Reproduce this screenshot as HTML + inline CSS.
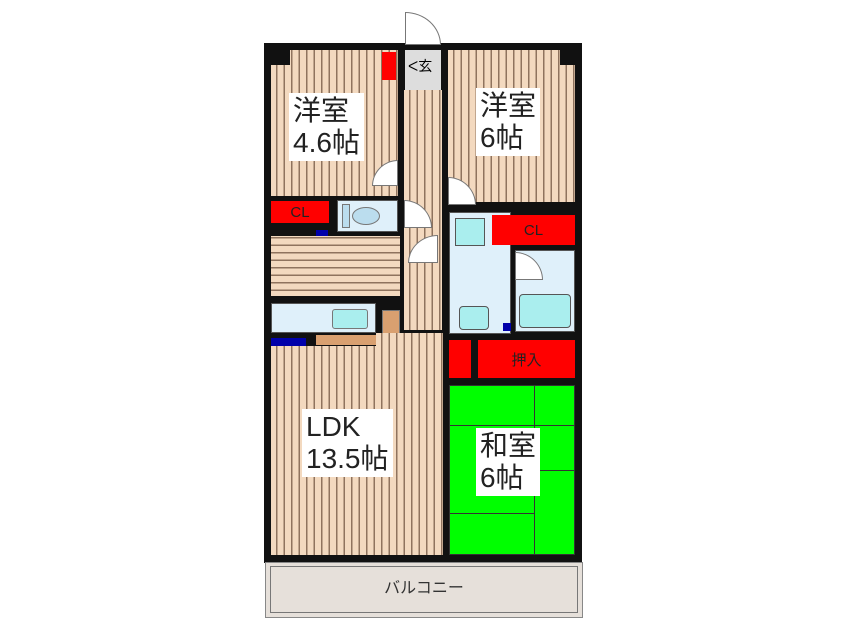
<!DOCTYPE html>
<html><head><meta charset="utf-8"><style>
body{margin:0;width:846px;height:634px;background:#fff;position:relative;overflow:hidden;font-family:"Liberation Sans","Noto Sans CJK JP",sans-serif}
div{position:absolute;box-sizing:border-box}
.v{background:repeating-linear-gradient(90deg,#f3d9bf 0 5px,#8f735e 5px 6.5px,#f3d9bf 6.5px 7.5px)}
.h{background:repeating-linear-gradient(0deg,#f3d9bf 0 5px,#8f735e 5px 6.5px,#f3d9bf 6.5px 7.5px)}
.k{background:#111}
.r{background:#f00;color:#222;font-size:15px;display:flex;align-items:center;justify-content:center}
.lb{background:#dff0fa;border:1px solid #555}
.t{background:#fff;font-size:28px;line-height:32px;color:#222;padding:2px 4px}
.door{border:1px solid #777;background:#fff;border-radius:0 100% 0 0}
</style></head><body>
<div class="k" style="left:264px;top:43px;width:318px;height:520px"></div>
<div class="v" style="left:271px;top:50px;width:127px;height:146px"></div>
<div class="v" style="left:404px;top:90px;width:38px;height:240px"></div>
<div style="left:405px;top:50px;width:36px;height:40px;background:#ddd"></div>
<div class="r" style="left:382px;top:52px;width:14px;height:28px"></div>
<div style="left:408px;top:56px;font-size:14px">ᐸ玄</div>
<div class="v" style="left:448px;top:50px;width:127px;height:152px"></div>
<div style="left:270px;top:45px;width:20px;height:20px" class="k"></div>
<div style="left:560px;top:45px;width:18px;height:20px" class="k"></div>
<div class="r" style="left:271px;top:201px;width:58px;height:22px">CL</div>
<div class="lb" style="left:337px;top:200px;width:61px;height:32px"></div>
<div style="left:342px;top:204px;width:8px;height:24px;background:#bde;border:1px solid #777"></div>
<div style="left:352px;top:207px;width:28px;height:18px;background:#bde;border:1px solid #777;border-radius:50%"></div>
<div style="left:316px;top:230px;width:12px;height:8px;background:#00a"></div>
<div class="h" style="left:271px;top:236px;width:129px;height:60px"></div>
<div class="lb" style="left:271px;top:303px;width:105px;height:30px"></div>
<div style="left:332px;top:309px;width:36px;height:20px;background:#aee;border:1px solid #777;border-radius:3px"></div>
<div style="left:382px;top:310px;width:18px;height:24px;background:#d9a070;border:1px solid #777"></div>
<div style="left:316px;top:335px;width:60px;height:10px;background:#d9a070"></div>
<div style="left:271px;top:338px;width:35px;height:8px;background:#00a"></div>
<div class="v" style="left:271px;top:346px;width:172px;height:209px"></div>
<div class="v" style="left:376px;top:333px;width:67px;height:15px"></div>
<div class="lb" style="left:449px;top:212px;width:62px;height:122px"></div>
<div style="left:455px;top:218px;width:30px;height:28px;background:#aee;border:1px solid #555"></div>
<div style="left:459px;top:306px;width:30px;height:24px;background:#aee;border:1px solid #555;border-radius:4px"></div>
<div class="r" style="left:492px;top:215px;width:83px;height:30px">CL</div>
<div class="lb" style="left:515px;top:250px;width:60px;height:82px"></div>
<div style="left:519px;top:294px;width:52px;height:34px;background:#aee;border:1px solid #555;border-radius:4px"></div>
<div style="left:503px;top:323px;width:8px;height:8px;background:#00a"></div>
<div class="r" style="left:449px;top:340px;width:22px;height:38px"></div>
<div class="r" style="left:478px;top:340px;width:97px;height:38px">押入</div>
<div style="left:449px;top:385px;width:126px;height:170px;background:#0f0;border:1px solid #333"></div>
<div style="left:449px;top:425px;width:126px;height:1px;background:#333"></div>
<div style="left:534px;top:385px;width:1px;height:170px;background:#333"></div>
<div style="left:449px;top:513px;width:86px;height:1px;background:#333"></div>
<div style="left:534px;top:470px;width:41px;height:1px;background:#333"></div>
<div class="door" style="left:372px;top:160px;width:26px;height:26px;border-radius:100% 0 0 0"></div>
<div class="door" style="left:448px;top:177px;width:28px;height:28px"></div>
<div class="door" style="left:404px;top:200px;width:28px;height:28px"></div>
<div class="door" style="left:408px;top:235px;width:30px;height:28px;border-radius:100% 0 0 0"></div>
<div class="door" style="left:515px;top:252px;width:28px;height:28px"></div>
<div class="door" style="left:405px;top:12px;width:36px;height:33px"></div>
<div class="t" style="left:289px;top:93px">洋室<br>4.6帖</div>
<div class="t" style="left:476px;top:88px">洋室<br>6帖</div>
<div class="t" style="left:302px;top:409px">LDK<br>13.5帖</div>
<div class="t" style="left:476px;top:428px">和室<br>6帖</div>
<div style="left:265px;top:562px;width:318px;height:56px;background:#e6e0da;border:1px solid #888"></div>
<div style="left:270px;top:566px;width:308px;height:47px;border:1px solid #777"></div>
<div style="left:265px;top:574px;width:318px;text-align:center;font-size:16px;color:#333">バルコニー</div>
</body></html>
